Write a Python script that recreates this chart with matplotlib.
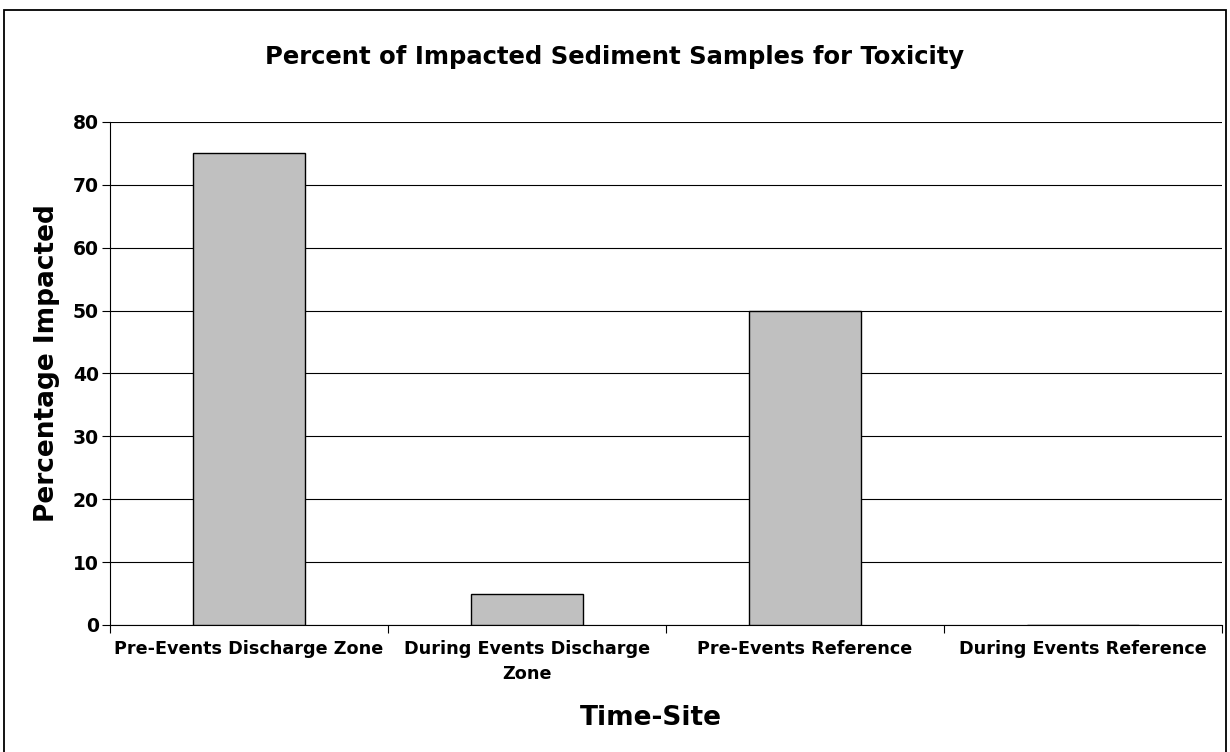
import matplotlib.pyplot as plt
from matplotlib.patches import Rectangle

# chart data
sites = ['Pre-Events Discharge Zone', 'During Events Discharge\nZone',
         'Pre-Events Reference', 'During Events Reference']
pct_impacted = [75, 5, 50, 0]
yticks = [0, 10, 20, 30, 40, 50, 60, 70, 80]

plt.rcParams['font.family'] = ['DejaVu Sans']

fig = plt.figure(figsize=(12.3, 7.52), dpi=100)
W, H = 1230, 752
# plot area in pixels: x 110..1222, y 122..625
ax = fig.add_axes([110 / W, 1 - 625 / H, 1112 / W, 503 / H])

# outer chart frame
fig.patches.append(Rectangle((4 / W, -0.05), 1222 / W, 1 - 10 / H + 0.05,
                             transform=fig.transFigure, fill=False,
                             edgecolor='black', linewidth=1.3))

x = [i + 0.5 for i in range(len(sites))]
ax.bar(x, pct_impacted, width=0.4, color='#c0c0c0', edgecolor='black',
       linewidth=1.0, zorder=3)

ax.set_xlim(0, 4)
ax.set_ylim(0, 80)
ax.set_yticks(yticks)
ax.yaxis.grid(True, color='black', linewidth=0.8, zorder=0)
ax.set_xticks(x)
ax.set_xticklabels(sites, fontsize=12.7, fontweight='bold', linespacing=1.5)
ax.set_xticks([0, 1, 2, 3, 4], minor=True)
ax.tick_params(axis='x', which='major', length=0, pad=11)
ax.tick_params(axis='x', which='minor', length=6, direction='out', width=0.8)
ax.tick_params(axis='y', length=6, width=0.8, labelsize=13.5, pad=2)
for lbl in ax.get_yticklabels():
    lbl.set_fontweight('bold')

ax.spines['top'].set_visible(False)
ax.spines['right'].set_visible(False)

ax.set_ylabel('Percentage Impacted', fontsize=19, fontweight='bold', va='center')
ax.yaxis.set_label_coords(-0.0567, 0.521)
ax.set_xlabel('Time-Site', fontsize=19, fontweight='bold', va='center')
ax.xaxis.set_label_coords(0.4865, -0.185)
fig.text(615 / W, 1 - 57 / H, 'Percent of Impacted Sediment Samples for Toxicity',
         ha='center', va='center', fontsize=17.5, fontweight='bold')

fig.savefig('out.png', dpi=100)
